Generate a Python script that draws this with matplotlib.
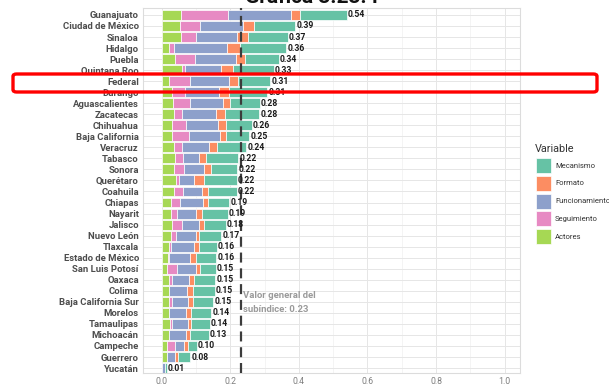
import matplotlib
matplotlib.use("Agg")
import matplotlib.pyplot as plt
from matplotlib.patches import FancyBboxPatch, Rectangle
import numpy as np

plt.rcParams['font.family'] = ['Roboto', 'DejaVu Sans']

states = ["Guanajuato", "Ciudad de México", "Sinaloa", "Hidalgo", "Puebla",
          "Quintana Roo", "Federal", "Durango", "Aguascalientes", "Zacatecas",
          "Chihuahua", "Baja California", "Veracruz", "Tabasco", "Sonora",
          "Querétaro", "Coahuila", "Chiapas", "Nayarit", "Jalisco",
          "Nuevo León", "Tlaxcala", "Estado de México", "San Luis Potosí",
          "Oaxaca", "Colima", "Baja California Sur", "Morelos", "Tamaulipas",
          "Michoacán", "Campeche", "Guerrero", "Yucatán"]

actores = [0.056, 0.054, 0.057, 0.020, 0.039, 0.058, 0.020, 0.029, 0.032, 0.036,
           0.029, 0.029, 0.036, 0.039, 0.036, 0.042, 0.036, 0.026, 0.026, 0.029,
           0.026, 0.020, 0.017, 0.015, 0.021, 0.020, 0.020, 0.020, 0.024, 0.020,
           0.015, 0.015, 0.000]
seguimiento = [0.137, 0.056, 0.043, 0.015, 0.058, 0.010, 0.063, 0.039, 0.049, 0.024,
               0.042, 0.050, 0.024, 0.024, 0.029, 0.007, 0.027, 0.027, 0.019, 0.031,
               0.015, 0.007, 0.005, 0.029, 0.010, 0.002, 0.010, 0.000, 0.005, 0.000,
               0.024, 0.000, 0.000]
funcionamiento = [0.183, 0.127, 0.120, 0.154, 0.120, 0.105, 0.112, 0.100, 0.096, 0.098,
                  0.094, 0.090, 0.079, 0.046, 0.058, 0.046, 0.053, 0.068, 0.056, 0.047,
                  0.058, 0.068, 0.061, 0.055, 0.049, 0.051, 0.046, 0.051, 0.046, 0.051,
                  0.027, 0.024, 0.008]
formato = [0.026, 0.032, 0.031, 0.039, 0.027, 0.034, 0.026, 0.028, 0.022, 0.026,
           0.021, 0.017, 0.023, 0.019, 0.020, 0.029, 0.019, 0.015, 0.017, 0.017,
           0.010, 0.013, 0.017, 0.013, 0.015, 0.019, 0.015, 0.015, 0.010, 0.010,
           0.010, 0.008, 0.000]
mecanismo = [0.137, 0.120, 0.117, 0.135, 0.097, 0.120, 0.095, 0.112, 0.086, 0.100,
             0.076, 0.069, 0.084, 0.095, 0.077, 0.095, 0.083, 0.061, 0.074, 0.063,
             0.064, 0.053, 0.059, 0.046, 0.061, 0.063, 0.059, 0.058, 0.055, 0.056,
             0.026, 0.036, 0.006]
totals = [0.54, 0.39, 0.37, 0.36, 0.34, 0.33, 0.31, 0.31, 0.28, 0.28,
          0.26, 0.25, 0.24, 0.22, 0.22, 0.22, 0.22, 0.19, 0.19, 0.18,
          0.17, 0.16, 0.16, 0.15, 0.15, 0.15, 0.15, 0.14, 0.14, 0.13,
          0.10, 0.08, 0.01]
general_value = 0.23
x_ticks = [0.0, 0.2, 0.4, 0.6, 0.8, 1.0]

series = [("Actores", actores, "#A6D854"),
          ("Seguimiento", seguimiento, "#E78AC3"),
          ("Funcionamiento", funcionamiento, "#8DA0CB"),
          ("Formato", formato, "#FC8D62"),
          ("Mecanismo", mecanismo, "#66C2A5")]

W, H = 609, 388
fig = plt.figure(figsize=(W / 100, H / 100), dpi=100)
ax = fig.add_axes([143 / W, 1 - 373 / H, (520 - 143) / W, (373 - 8) / H])

y = np.arange(len(states))
left = np.zeros(len(states))
for name, vals, col in series:
    vals = np.array(vals)
    ax.barh(y, vals, left=left, height=0.9, color=col, edgecolor="white",
            linewidth=0.5, zorder=2)
    left += vals

for yi, (e, t) in enumerate(zip(left, totals)):
    ax.text(e + 0.003, yi, f"{t:.2f}", va="center", ha="left", fontsize=6.2,
            fontweight="bold", color="#1a1a1a", zorder=4)

ax.axvline(general_value, color="#3c3c3c", linewidth=1.6,
           dashes=(4.5, 2.6), zorder=3)
ax.text(general_value + 0.007, 26.1, "Valor general del\nsubíndice: 0.23",
        fontsize=6.8, fontweight="bold", color="#9a9a9a", va="center",
        ha="left", linespacing=1.7, zorder=4)

ax.set_xlim(-0.055, 1.045)
ax.set_ylim(len(states) - 1 + 0.45, -0.63)
ax.set_yticks(y)
ax.set_yticklabels(states, fontsize=6.8, fontweight="bold", color="#4d4d4d")
ax.set_xticks(x_ticks)
ax.set_xticklabels([f"{v:.1f}" for v in x_ticks], fontsize=6.3, color="#7f7f7f")
ax.set_xticks(np.arange(0.1, 1.0, 0.2), minor=True)
ax.tick_params(axis="both", which="both", length=0, pad=3)
ax.grid(True, which="major", color="#e6e6e6", linewidth=0.7, zorder=0)
ax.grid(True, which="minor", axis="x", color="#f0f0f0", linewidth=0.5, zorder=0)
ax.set_axisbelow(True)
for s in ax.spines.values():
    s.set_color("#dcdcdc")
    s.set_linewidth(0.8)

# legend (drawn in figure pixel coordinates)
fig.text(535 / W, 1 - 149 / H, "Variable", fontsize=7.8, color="#333333",
         ha="left", va="center")
for i, (name, _, col) in enumerate(reversed(series)):
    top = 158 + i * 17.8
    fig.add_artist(Rectangle((536 / W, 1 - (top + 15) / H), 15 / W, 15 / H,
                             transform=fig.transFigure, facecolor=col,
                             edgecolor="white", linewidth=0.5))
    fig.text(555 / W, 1 - (top + 7.5) / H, name, fontsize=5.5,
             color="#333333", ha="left", va="center")

fig.text(312 / W, 1 - 3 / H, "Gráfica 3.23.4", ha="center", va="baseline",
         fontsize=15, fontweight="bold", color="#111111")

rect = FancyBboxPatch((13 / W, 1 - 92 / H), (597 - 13) / W, 18 / H,
                      boxstyle="round,pad=0,rounding_size=0.006",
                      transform=fig.transFigure, facecolor="none",
                      edgecolor="#ff0000", linewidth=2.4, zorder=10)
fig.add_artist(rect)

fig.savefig("out.png", dpi=100)
